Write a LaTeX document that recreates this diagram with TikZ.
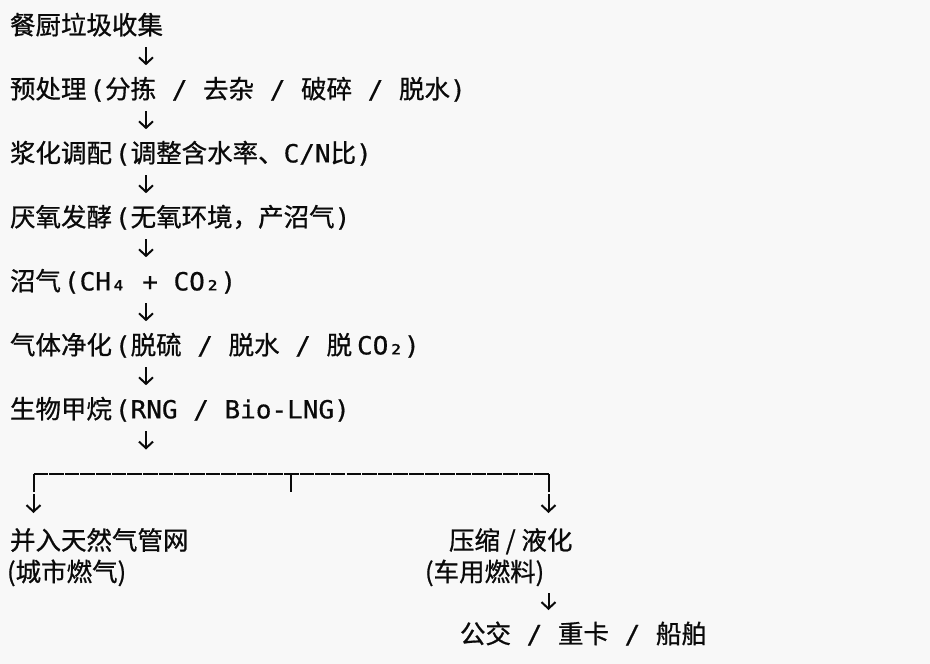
\documentclass[tikz,border=0pt]{standalone}
\usepackage{fontspec}
\usetikzlibrary{arrows.meta,calc}
\newfontfamily\monof{DejaVu Sans Mono}[FakeStretch=1.04,FakeBold=0.6]
\newfontfamily\cjkf{Noto Sans CJK SC}[Scale=1.02,FakeBold=0.8]
\newcommand\zh[1]{{\cjkf #1}}
\newcommand\gp{\kern3pt}
\definecolor{bg}{HTML}{F8F8F8}
\definecolor{ink}{HTML}{0A0A0A}
\tikzset{
  txt/.style={anchor=base west, inner sep=0pt, outer sep=0pt, text=ink,
    font=\monof\fontsize{25pt}{32pt}\selectfont},
  arr/.style={draw=ink, line width=2pt,
    -{Straight Barb[length=6.5pt,width=14pt]}},
  bar/.style={draw=ink, line width=2pt},
  barh/.style={draw=ink, line width=2pt, dash pattern=on 14.6pt off 1.05pt}
}
\begin{document}
\begin{tikzpicture}[x=1pt,y=1pt]
\path[fill=bg,use as bounding box] (0,0) rectangle (930,-664);
% main column
\node[txt] (r0) at (10,-34.4) {\zh{餐厨垃圾收集}};
\node[txt] (r1) at (10,-98.4) {\zh{预处理}\gp(\zh{分拣} / \zh{去杂} / \zh{破碎} / \zh{脱水})};
\node[txt] (r2) at (10,-162.4) {\zh{浆化调配}\gp(\zh{调整含水率、}C/N\zh{比})};
\node[txt] (r3) at (10,-226.4) {\zh{厌氧发酵}\gp(\zh{无氧环境，产沼气})};
\node[txt] (r4) at (10,-290.4) {\zh{沼气}\gp(CH₄ + CO₂)};
\node[txt] (r5) at (10,-354.4) {\zh{气体净化}\gp(\zh{脱硫} / \zh{脱水} / \zh{脱}\kern5pt CO₂)};
\node[txt] (r6) at (10,-418.4) {\zh{生物甲烷}\gp(RNG / Bio-LNG)};
% outputs
\node[txt] (n1) at (10,-549.7) {\zh{并入天然气管网}};
\node[txt] (n2) at (7,-581.2) {\zh{(城市燃气)}};
\node[txt] (n3) at (449,-549.7) {\zh{压缩 / 液化}};
\node[txt] (n4) at (425,-581.2) {\zh{(车用燃料)}};
\node[txt] (n5) at (460,-643.2) {\zh{公交} / \zh{重卡} / \zh{船舶}};
% arrow column
\coordinate (ax) at (146,0);
\foreach \a/\b in {r0/r1,r1/r2,r2/r3,r3/r4,r4/r5,r5/r6}{
  \draw[arr] ($(\a.base -| ax)+(0,-12.6)$) -- ($(\b.base -| ax)+(0,33.2)$);
}
\coordinate (ex) at (146,-449.5);
\draw[arr] ($(r6.base -| ax)+(0,-12.6)$) -- (ex);
% branch
\coordinate (bL) at (33.5,-492);
\coordinate (bR) at (548.5,-492);
\coordinate (bT) at (291,-474);
\coordinate (bM) at (291,-492);
\draw[barh] (bL |- bT) -- (bR |- bT);
\draw[bar] (bL) -- (bL |- bT);
\draw[bar] (bR) -- (bR |- bT);
\draw[bar] (bT) -- (bM);
\draw[arr] ($(bL)+(0,-2)$) -- ($(n1.base -| bL)+(0,36.7)$);
\draw[arr] ($(bR)+(0,-2)$) -- ($(n3.base -| bR)+(0,36.7)$);
\draw[arr] ($(n4.base -| bR)+(0,-11.8)$) -- ($(n5.base -| bR)+(0,33.2)$);
\end{tikzpicture}
\end{document}
